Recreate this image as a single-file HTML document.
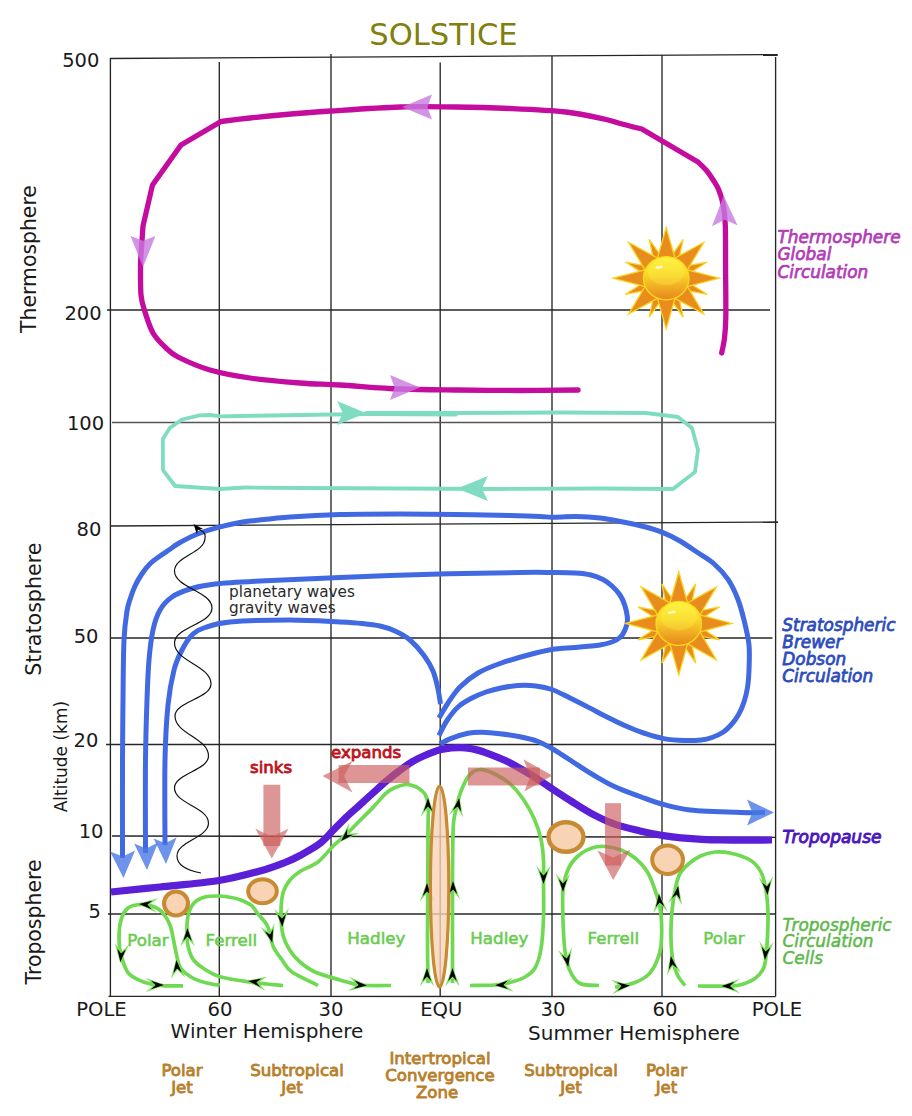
<!DOCTYPE html>
<html lang="en"><head><meta charset="utf-8"><title>Solstice atmospheric circulation</title>
<style>
html,body{margin:0;padding:0;background:#fff;}
body{width:912px;height:1116px;overflow:hidden;font-family:"DejaVu Sans","Liberation Sans",sans-serif;}
svg{display:block;}
</style></head><body>
<svg width="912" height="1116" viewBox="0 0 912 1116" font-family="'DejaVu Sans', 'Liberation Sans', sans-serif">
<g id="grid">
<line x1="110.4" y1="58.0" x2="110.4" y2="996.0" stroke="#262626" stroke-width="1.35"/>
<line x1="219.3" y1="62.0" x2="219.3" y2="996.0" stroke="#262626" stroke-width="1.35"/>
<line x1="331.0" y1="54.0" x2="331.0" y2="996.0" stroke="#262626" stroke-width="1.35"/>
<line x1="440.2" y1="62.5" x2="440.2" y2="996.0" stroke="#262626" stroke-width="1.35"/>
<line x1="552.0" y1="56.0" x2="552.0" y2="996.0" stroke="#262626" stroke-width="1.35"/>
<line x1="662.0" y1="55.0" x2="662.0" y2="996.0" stroke="#262626" stroke-width="1.35"/>
<line x1="775.6" y1="57.0" x2="775.6" y2="996.6" stroke="#262626" stroke-width="1.35"/>
<line x1="110.0" y1="58.5" x2="777.7" y2="54.6" stroke="#262626" stroke-width="1.35"/>
<line x1="107.0" y1="310.0" x2="770.0" y2="310.0" stroke="#262626" stroke-width="1.35"/>
<line x1="112.0" y1="422.6" x2="776.0" y2="422.6" stroke="#555" stroke-width="1.5"/>
<line x1="110.0" y1="526.0" x2="778.0" y2="522.0" stroke="#262626" stroke-width="1.35"/>
<line x1="110.0" y1="638.0" x2="772.5" y2="638.0" stroke="#262626" stroke-width="1.35"/>
<line x1="106.0" y1="744.5" x2="776.0" y2="744.5" stroke="#262626" stroke-width="1.35"/>
<line x1="112.0" y1="836.0" x2="776.0" y2="837.3" stroke="#262626" stroke-width="1.35"/>
<line x1="108.0" y1="914.0" x2="776.0" y2="914.0" stroke="#262626" stroke-width="1.35"/>
<line x1="108.5" y1="996.4" x2="775.5" y2="996.6" stroke="#262626" stroke-width="1.35"/>
</g>
<path d="M721.7,353.0 C722.2,350.5 723.8,343.8 724.5,338.0 C725.2,332.2 725.6,329.3 725.8,318.0 C726.0,306.7 725.7,285.5 725.6,270.0 C725.5,254.5 725.7,236.0 725.3,225.0 C724.9,214.0 724.1,209.8 723.0,204.0 C721.9,198.2 720.4,194.0 718.8,190.0 C717.2,186.0 715.2,183.2 713.2,180.0 C711.2,176.8 709.0,173.5 706.5,170.5 C704.0,167.5 699.4,163.4 698.0,162.0 L641.8,129.0 C638.2,128.1 626.0,125.1 620.0,123.5 C614.0,121.9 615.0,121.4 606.0,119.5 C597.0,117.6 582.0,113.8 566.0,112.0 C550.0,110.2 528.3,109.3 510.0,108.5 C491.7,107.7 474.3,107.2 456.0,107.0 C437.7,106.8 420.8,106.3 400.0,107.0 C379.2,107.7 351.0,109.7 331.0,111.0 C311.0,112.3 293.5,113.8 280.0,115.0 C266.5,116.2 259.8,116.9 250.0,118.0 C240.2,119.1 225.8,120.9 221.0,121.5 L181.0,145.0 L152.5,185.0 L143.0,226.0 L140.5,262.0  C140.6,267.5 140.2,286.7 141.0,295.0 C141.8,303.3 143.0,305.7 145.0,312.0 C147.0,318.3 149.7,327.2 153.0,333.0 C156.3,338.8 160.8,343.0 165.0,347.0 C169.2,351.0 170.5,353.2 178.0,357.0 C185.5,360.8 198.0,366.5 210.0,370.0 C222.0,373.5 235.0,375.8 250.0,378.0 C265.0,380.2 285.0,381.8 300.0,383.0 C315.0,384.2 323.3,384.0 340.0,385.0 C356.7,386.0 380.7,388.2 400.0,389.0 C419.3,389.8 436.0,389.8 456.0,390.0 C476.0,390.2 499.7,390.5 520.0,390.5 C540.3,390.5 568.3,390.1 578.0,390.0" fill="none" stroke="#c40c9e" stroke-width="5.3" stroke-linecap="round" stroke-linejoin="round"/>
<path d="M402.0,107.0 L432.0,94.5 L427.5,107.0 L432.0,119.5 Z" fill="#c879e0" fill-opacity="0.8"/>
<path d="M143.0,267.0 L130.5,236.0 L143.0,240.7 L155.5,236.0 Z" fill="#c879e0" fill-opacity="0.8"/>
<path d="M723.7,195.8 L737.5,225.3 L724.5,219.8 L712.0,226.2 Z" fill="#c879e0" fill-opacity="0.8"/>
<path d="M420.0,387.5 L390.0,400.0 L394.5,387.5 L390.0,375.0 Z" fill="#c879e0" fill-opacity="0.8"/>
<path d="M366.0,413.0 L456.0,413.0 L560.0,412.5 L646.0,413.0 L678.0,417.0 L692.0,428.0 L698.0,450.0 L695.0,472.0 L673.0,489.0 L600.0,488.5 L500.0,489.0 L400.0,488.5 L300.0,488.0 L245.0,487.5 L220.0,489.0 L175.0,486.0 L163.0,470.0 L162.8,439.0 L169.8,428.0 L182.0,419.5 L199.6,415.3 L210.0,415.0 L220.7,416.3 L240.0,416.0 L300.0,415.0 L366.0,414.0 L456.0,414.5" fill="none" stroke="#80dcc0" stroke-width="3.8" stroke-linecap="round" stroke-linejoin="round"/>
<path d="M366.0,413.0 L337.0,425.0 L342.8,413.0 L337.0,401.0 Z" fill="#80dcc0" fill-opacity="1"/>
<path d="M457.0,488.5 L488.0,476.0 L481.8,488.5 L488.0,501.0 Z" fill="#80dcc0" fill-opacity="1"/>
<path d="M122.5,858.0 C122.5,841.7 122.4,786.3 122.5,760.0 C122.6,733.7 122.8,720.0 123.0,700.0 C123.2,680.0 123.3,654.8 124.0,640.0 C124.7,625.2 125.9,618.0 127.0,611.0 C128.1,604.0 129.2,602.2 130.5,598.0 C131.8,593.8 133.2,589.9 135.0,586.0 C136.8,582.1 139.0,578.2 141.5,574.5 C144.0,570.8 146.9,566.9 150.0,563.8 C153.1,560.7 156.7,558.4 160.0,556.0 C163.3,553.6 167.1,551.3 170.0,549.3 C172.9,547.3 173.3,546.4 177.5,544.0 C181.7,541.6 188.1,537.8 195.0,535.0 C201.9,532.2 211.5,529.3 219.0,527.2 C226.5,525.1 234.0,523.6 240.0,522.5 C246.0,521.4 246.7,521.4 255.0,520.5 C263.3,519.6 275.8,518.0 290.0,517.0 C304.2,516.0 321.7,515.0 340.0,514.5 C358.3,514.0 380.7,514.0 400.0,514.0 C419.3,514.0 437.7,514.2 456.0,514.5 C474.3,514.8 496.0,515.2 510.0,515.5 C524.0,515.8 533.0,516.1 540.0,516.4 C547.0,516.7 546.0,517.2 552.0,517.2 C558.0,517.2 568.0,516.5 576.0,516.6 C584.0,516.7 591.9,517.1 600.0,518.0 C608.1,518.9 617.1,520.8 624.4,522.2 C631.7,523.6 637.3,524.8 643.7,526.5 C650.1,528.2 657.0,530.2 663.0,532.6 C669.0,535.0 674.4,537.8 680.0,541.0 C685.6,544.2 691.2,548.2 696.8,552.0 C702.4,555.8 708.5,558.9 713.7,563.5 C718.9,568.1 724.2,573.7 728.2,579.6 C732.2,585.5 735.2,592.3 737.8,599.0 C740.4,605.7 742.1,612.3 744.0,620.0 C745.9,627.7 748.2,636.7 749.0,645.0 C749.8,653.3 749.2,663.0 749.0,670.0 C748.8,677.0 748.4,681.7 747.6,687.0 C746.8,692.3 745.5,697.3 744.0,702.0 C742.5,706.7 740.5,711.2 738.3,715.0 C736.1,718.8 733.5,722.2 731.0,725.0 C728.5,727.8 726.6,729.9 723.4,732.0 C720.2,734.1 715.7,736.2 712.0,737.5 C708.3,738.8 705.5,739.5 701.0,740.0 C696.5,740.5 691.2,740.7 685.0,740.5 C678.8,740.3 670.4,739.8 663.7,738.6 C657.0,737.4 651.2,735.5 645.0,733.5 C638.8,731.5 632.7,729.0 626.4,726.3 C620.1,723.5 613.2,720.1 607.0,717.0 C600.8,713.9 595.2,710.8 589.0,707.6 C582.8,704.4 576.2,701.0 570.0,698.0 C563.8,695.0 557.6,691.5 551.9,689.5 C546.2,687.5 541.6,686.7 536.0,686.0 C530.4,685.3 523.8,685.2 518.0,685.5 C512.2,685.8 506.3,686.9 501.0,688.0 C495.7,689.1 490.8,690.3 486.0,692.0 C481.2,693.7 476.7,695.5 472.0,698.0 C467.3,700.5 462.2,703.2 458.0,707.0 C453.8,710.8 450.2,715.8 447.0,720.5 C443.8,725.2 440.3,733.0 439.0,735.5" fill="none" stroke="#4169e1" stroke-width="5" stroke-linecap="butt" stroke-linejoin="round"/>
<path d="M145.5,853.0 C145.5,837.5 145.2,785.5 145.5,760.0 C145.8,734.5 146.4,716.7 147.0,700.0 C147.6,683.3 148.0,671.7 149.0,660.0 C150.0,648.3 151.2,638.3 153.0,630.0 C154.8,621.7 156.8,615.5 160.0,610.0 C163.2,604.5 167.0,600.5 172.0,597.0 C177.0,593.5 182.8,591.2 190.0,589.0 C197.2,586.8 203.3,585.3 215.0,584.0 C226.7,582.7 239.2,582.1 260.0,581.0 C280.8,579.9 310.0,578.7 340.0,577.5 C370.0,576.3 410.0,574.8 440.0,574.0 C470.0,573.2 501.3,572.8 520.0,572.5 C538.7,572.2 542.8,572.4 552.0,572.5 C561.2,572.6 568.5,572.6 575.0,573.0 C581.5,573.4 586.3,573.9 591.0,575.0 C595.7,576.1 599.5,577.7 603.0,579.5 C606.5,581.3 609.2,583.4 612.0,586.0 C614.8,588.6 617.8,591.7 620.0,595.0 C622.2,598.3 623.8,601.8 625.0,606.0 C626.2,610.2 627.5,616.0 627.5,620.0 C627.5,624.0 626.2,627.1 625.0,630.0 C623.8,632.9 622.2,635.5 620.0,637.5 C617.8,639.5 615.3,640.8 612.0,642.0 C608.7,643.2 606.2,644.1 600.0,645.0 C593.8,645.9 583.0,646.8 575.0,647.5 C567.0,648.2 559.5,648.3 552.0,649.5 C544.5,650.7 538.7,652.2 530.0,654.5 C521.3,656.8 508.7,660.4 500.0,663.5 C491.3,666.6 484.7,669.1 478.0,673.0 C471.3,676.9 465.0,682.0 460.0,687.0 C455.0,692.0 451.5,697.8 448.0,703.0 C444.5,708.2 440.5,715.5 439.0,718.0" fill="none" stroke="#4169e1" stroke-width="5" stroke-linecap="butt" stroke-linejoin="round"/>
<path d="M165.0,845.0 C165.0,830.8 164.5,783.3 165.0,760.0 C165.5,736.7 166.5,720.0 168.0,705.0 C169.5,690.0 171.7,679.2 174.0,670.0 C176.3,660.8 179.0,655.8 182.0,650.0 C185.0,644.2 188.2,638.8 192.0,635.0 C195.8,631.2 198.7,629.7 205.0,627.5 C211.3,625.3 215.8,623.2 230.0,622.0 C244.2,620.8 271.7,620.0 290.0,620.0 C308.3,620.0 328.0,621.4 340.0,622.0 C352.0,622.6 355.3,622.8 362.0,623.5 C368.7,624.2 374.5,624.8 380.0,626.0 C385.5,627.2 390.0,628.7 395.0,631.0 C400.0,633.3 405.2,635.9 410.0,640.0 C414.8,644.1 420.2,650.3 424.0,655.5 C427.8,660.7 430.7,665.4 433.0,671.0 C435.3,676.6 436.8,683.5 438.0,689.0 C439.2,694.5 440.1,701.5 440.5,704.0" fill="none" stroke="#4169e1" stroke-width="5" stroke-linecap="butt" stroke-linejoin="round"/>
<path d="M440.0,744.0 C441.7,743.1 445.3,740.6 450.0,738.8 C454.7,737.0 462.7,734.4 468.0,733.3 C473.3,732.2 476.7,732.2 482.0,732.3 C487.3,732.4 493.7,733.0 500.0,733.8 C506.3,734.5 513.7,735.5 520.0,736.8 C526.3,738.1 532.8,739.6 538.0,741.5 C543.2,743.4 547.3,746.0 551.0,748.0 C554.7,750.0 556.6,751.3 560.0,753.5 C563.4,755.7 566.0,757.4 571.6,761.0 C577.2,764.6 586.2,770.7 593.5,775.0 C600.8,779.3 607.6,783.4 615.4,787.0 C623.1,790.6 632.6,793.8 640.0,796.5 C647.4,799.2 651.7,801.2 660.0,803.5 C668.3,805.8 676.5,808.5 690.0,810.0 C703.5,811.5 728.5,812.1 741.0,812.5 C753.5,812.9 761.0,812.5 765.0,812.5" fill="none" stroke="#4169e1" stroke-width="5" stroke-linecap="butt" stroke-linejoin="round"/>
<path d="M111.0,892.0 C119.2,891.2 142.0,888.9 160.0,887.0 C178.0,885.1 202.3,883.2 219.0,880.5 C235.7,877.8 249.0,874.0 260.0,871.0 C271.0,868.0 278.3,865.1 285.0,862.5 C291.7,859.9 294.2,858.7 300.0,855.5 C305.8,852.3 314.5,847.6 320.0,843.4 C325.5,839.2 328.8,834.7 333.2,830.3 C337.6,825.9 341.9,821.3 346.3,817.1 C350.7,812.9 355.1,809.2 359.5,805.3 C363.9,801.3 368.2,797.3 372.6,793.4 C377.0,789.5 381.4,785.3 385.8,781.6 C390.2,777.9 394.6,774.3 399.0,771.0 C403.4,767.7 407.6,764.4 412.0,761.8 C416.4,759.2 420.6,757.3 425.3,755.3 C430.0,753.3 435.7,751.0 440.0,749.8 C444.3,748.6 447.3,748.4 451.0,748.0 C454.7,747.6 458.3,747.5 462.0,747.7 C465.7,747.9 469.4,748.3 473.0,749.0 C476.6,749.7 478.4,750.0 483.9,752.0 C489.4,754.0 498.5,757.3 505.8,760.8 C513.1,764.3 520.4,768.5 527.7,772.9 C535.0,777.3 542.3,782.4 549.6,787.1 C556.9,791.9 564.3,796.8 571.6,801.4 C578.9,806.0 586.2,810.8 593.5,814.6 C600.8,818.4 607.6,821.7 615.4,824.4 C623.1,827.1 632.6,829.2 640.0,831.0 C647.4,832.8 653.2,833.9 660.0,835.0 C666.8,836.1 671.0,837.0 681.0,837.8 C691.0,838.6 704.8,839.6 720.0,840.0 C735.2,840.4 763.3,840.0 772.0,840.0" fill="none" stroke="#5a1fd6" stroke-width="7.2" stroke-linecap="butt" stroke-linejoin="round"/>
<path d="M123.5,878.0 L110.1,851.5 L122.7,856.4 L135.1,850.6 Z" fill="#4a78e6" fill-opacity="0.8"/>
<path d="M147.0,870.0 L134.1,843.4 L146.2,848.4 L158.1,842.6 Z" fill="#4a78e6" fill-opacity="0.8"/>
<path d="M166.0,864.0 L153.6,838.4 L165.3,843.2 L176.6,837.6 Z" fill="#4a78e6" fill-opacity="0.8"/>
<path d="M774.0,812.5 L747.0,825.5 L752.4,812.5 L747.0,799.5 Z" fill="#4a78e6" fill-opacity="0.8"/>
<path d="M196,528 C203,531 206,533 205,538 C205.0,552.9 174.5,556.1 174.5,571.0 C174.5,587.6 212.0,591.4 212.0,608.0 C212.0,623.8 174.5,627.2 174.5,643.0 C174.5,661.5 211.0,665.5 211.0,684.0 C211.0,698.4 175.0,701.6 175.0,716.0 C175.0,734.0 208.5,738.0 208.5,756.0 C208.5,770.4 174.5,773.6 174.5,788.0 C174.5,803.8 208.5,807.2 208.5,823.0 C208.5,837.9 177.0,841.1 177.0,856.0 C177,864 185,870 201,873" fill="none" stroke="#111" stroke-width="1.2"/>
<path d="M193.5,524.0 L203.0,529.1 L198.0,529.4 L196.9,534.2 Z" fill="#000" fill-opacity="1"/>
<path d="M219.8,985.4 C217.3,984.9 209.7,983.8 205.0,982.5 C200.3,981.2 195.8,979.8 191.8,977.5 C187.8,975.2 183.5,971.7 181.2,968.8 C178.8,965.9 178.8,964.0 177.7,960.0 C176.6,956.0 175.8,950.8 174.5,945.0 C173.2,939.2 172.1,930.5 170.0,925.0 C167.9,919.5 165.0,915.2 162.0,912.0 C159.0,908.8 155.7,907.2 152.0,906.0 C148.3,904.8 144.0,904.2 140.0,904.5 C136.0,904.8 131.2,905.4 128.0,908.0 C124.8,910.6 122.5,914.7 121.0,920.0 C119.5,925.3 119.0,934.2 119.0,940.0 C119.0,945.8 119.5,949.6 121.0,955.0 C122.5,960.4 125.0,968.2 127.7,972.3 C130.4,976.3 133.8,977.4 137.4,979.3 C141.1,981.2 144.9,982.6 149.6,983.7 C154.3,984.8 159.8,985.4 165.4,985.8 C171.0,986.1 180.1,985.8 183.0,985.8" fill="none" stroke="#6fd952" stroke-width="3.7" stroke-linecap="butt" stroke-linejoin="round"/>
<path d="M283.0,985.5 C277.5,984.9 260.5,983.5 250.0,982.0 C239.5,980.5 227.5,978.9 219.8,976.7 C212.1,974.5 208.4,971.6 204.0,968.8 C199.6,966.0 196.0,963.1 193.5,960.0 C191.0,956.9 190.1,953.7 189.0,950.0 C187.9,946.3 187.2,943.7 187.0,938.0 C186.8,932.3 186.8,921.8 188.0,916.0 C189.2,910.2 191.2,906.2 194.0,903.0 C196.8,899.8 200.8,898.2 205.0,897.0 C209.2,895.8 214.8,896.0 219.0,896.0 C223.2,896.0 226.5,896.7 230.0,897.3 C233.5,897.9 236.4,898.4 240.0,899.7 C243.6,901.1 248.5,903.1 251.4,905.4 C254.3,907.7 255.0,910.2 257.5,913.3 C260.0,916.4 264.2,920.7 266.3,923.9 C268.4,927.1 268.6,928.8 269.8,932.6 C271.0,936.4 271.2,942.1 273.3,946.7 C275.4,951.3 279.0,955.8 282.1,960.0 C285.2,964.2 286.0,967.8 292.0,972.0 C298.0,976.2 313.7,983.2 318.0,985.5" fill="none" stroke="#6fd952" stroke-width="3.7" stroke-linecap="butt" stroke-linejoin="round"/>
<path d="M428.0,983.0 C427.9,975.8 427.5,957.2 427.5,940.0 C427.5,922.8 427.7,898.3 427.8,880.0 C427.9,861.7 427.9,842.3 428.0,830.0 C428.1,817.7 428.6,811.9 428.2,806.0 C427.8,800.1 426.9,797.7 425.3,794.7 C423.7,791.7 420.9,789.7 418.7,788.2 C416.5,786.7 414.2,786.1 412.0,785.5 C409.8,784.9 408.5,784.1 405.5,784.5 C402.5,784.9 397.3,786.5 394.0,788.0 C390.7,789.5 389.4,790.1 385.8,793.4 C382.2,796.7 377.0,803.3 372.6,807.9 C368.2,812.5 363.9,816.6 359.5,821.0 C355.1,825.4 350.7,830.0 346.3,834.2 C341.9,838.4 337.9,841.4 333.2,846.0 C328.5,850.6 323.5,857.8 318.0,862.0 C312.5,866.2 304.7,868.5 300.0,871.5 C295.3,874.5 292.8,876.4 290.0,880.0 C287.2,883.6 284.5,887.3 283.0,893.0 C281.5,898.7 281.0,907.0 281.0,914.0 C281.0,921.0 281.5,928.9 283.0,935.0 C284.5,941.1 287.2,946.0 290.0,950.5 C292.8,955.0 295.8,958.4 300.0,962.0 C304.2,965.6 308.3,969.0 315.0,972.0 C321.7,975.0 332.5,977.8 340.0,980.0 C347.5,982.2 351.5,984.1 360.0,985.0 C368.5,985.9 385.8,985.4 391.0,985.5" fill="none" stroke="#6fd952" stroke-width="3.7" stroke-linecap="butt" stroke-linejoin="round"/>
<path d="M452.5,983.0 C452.5,975.8 452.5,957.2 452.5,940.0 C452.5,922.8 452.4,898.7 452.5,880.0 C452.6,861.3 452.7,839.3 453.2,828.0 C453.7,816.7 454.3,817.9 455.4,812.4 C456.5,806.9 457.9,800.3 459.7,794.8 C461.5,789.3 464.1,783.3 466.3,779.5 C468.5,775.7 470.3,773.4 472.9,771.8 C475.5,770.1 478.0,769.2 481.7,769.6 C485.4,770.0 490.1,771.6 494.8,774.0 C499.6,776.4 505.4,779.7 510.2,783.9 C514.9,788.1 519.3,793.4 523.3,799.2 C527.3,805.0 531.4,812.3 534.3,818.9 C537.2,825.5 539.4,831.9 540.9,838.7 C542.4,845.6 543.1,853.0 543.5,860.0 C543.9,867.0 543.5,871.3 543.5,881.0 C543.5,890.7 543.9,906.7 543.5,918.0 C543.1,929.3 542.4,940.7 541.0,949.0 C539.6,957.3 537.7,963.3 535.0,968.0 C532.3,972.7 529.2,974.6 525.0,977.0 C520.8,979.4 515.0,981.2 510.0,982.5 C505.0,983.8 501.7,984.5 495.0,985.0 C488.3,985.5 474.2,985.4 470.0,985.5" fill="none" stroke="#6fd952" stroke-width="3.7" stroke-linecap="butt" stroke-linejoin="round"/>
<path d="M615.0,987.0 C615.8,986.9 616.7,987.2 620.0,986.5 C623.3,985.8 630.3,984.4 635.0,982.5 C639.7,980.6 644.5,978.2 648.0,975.0 C651.5,971.8 653.8,967.8 656.0,963.0 C658.2,958.2 660.2,954.2 661.0,946.0 C661.8,937.8 661.7,922.3 661.0,914.0 C660.3,905.7 659.2,902.8 657.0,896.0 C654.8,889.2 651.7,879.3 648.0,873.0 C644.3,866.7 639.5,861.8 635.0,858.0 C630.5,854.2 626.0,851.9 621.0,850.0 C616.0,848.1 609.8,846.8 605.0,846.5 C600.2,846.2 596.5,846.4 592.0,848.0 C587.5,849.6 582.0,852.4 578.0,856.0 C574.0,859.6 570.5,863.8 568.0,869.5 C565.5,875.2 563.8,881.6 563.0,890.0 C562.2,898.4 562.7,909.8 563.0,920.0 C563.3,930.2 563.8,942.5 565.0,951.0 C566.2,959.5 567.5,965.6 570.0,971.0 C572.5,976.4 575.2,981.1 580.0,983.5 C584.8,985.9 595.8,985.2 599.0,985.5" fill="none" stroke="#6fd952" stroke-width="3.7" stroke-linecap="butt" stroke-linejoin="round"/>
<path d="M685.0,985.5 C683.8,983.9 680.0,980.0 678.0,976.0 C676.0,972.0 674.2,967.8 673.0,961.5 C671.8,955.2 671.2,946.4 671.0,938.0 C670.8,929.6 671.2,919.3 672.0,911.0 C672.8,902.7 674.2,894.2 675.5,888.0 C676.8,881.8 677.8,877.5 680.0,873.5 C682.2,869.5 685.1,866.9 688.5,864.0 C691.9,861.1 696.1,858.0 700.5,856.0 C704.9,854.0 710.1,852.5 715.0,852.0 C719.9,851.5 724.2,851.7 730.0,853.0 C735.8,854.3 744.8,856.8 750.0,860.0 C755.2,863.2 758.3,866.9 761.0,872.0 C763.7,877.1 764.8,883.5 766.0,890.5 C767.2,897.5 767.8,905.8 768.0,914.0 C768.2,922.2 767.7,932.6 767.3,940.0 C766.9,947.4 766.5,953.6 765.8,958.4 C765.1,963.2 765.0,965.7 763.2,969.0 C761.5,972.3 758.6,975.7 755.3,978.2 C752.0,980.7 747.1,982.7 743.4,984.0 C739.7,985.3 737.6,985.6 732.9,986.0 C728.2,986.4 720.8,986.2 715.0,986.2 C709.2,986.2 700.8,986.0 698.0,986.0" fill="none" stroke="#6fd952" stroke-width="3.7" stroke-linecap="butt" stroke-linejoin="round"/>
<path d="M137.5,903.8 L158.1,898.3 L149.1,904.8 L156.8,912.7 Z" fill="#7fe060" fill-opacity="1"/>
<path d="M139.0,903.9 L152.3,900.8 L147.4,904.6 L151.6,909.3 Z" fill="#000" fill-opacity="1"/>
<path d="M120.3,963.5 L114.8,942.9 L121.3,951.9 L129.2,944.2 Z" fill="#7fe060" fill-opacity="1"/>
<path d="M120.4,962.0 L117.3,948.7 L121.1,953.6 L125.8,949.4 Z" fill="#000" fill-opacity="1"/>
<path d="M165.5,985.0 L145.5,992.2 L153.9,985.0 L145.5,977.8 Z" fill="#7fe060" fill-opacity="1"/>
<path d="M164.0,985.0 L151.0,989.2 L155.6,985.0 L151.0,980.8 Z" fill="#000" fill-opacity="1"/>
<path d="M176.3,958.5 L185.2,977.8 L177.3,970.1 L170.8,979.1 Z" fill="#7fe060" fill-opacity="1"/>
<path d="M176.4,960.0 L181.8,972.6 L177.1,968.4 L173.3,973.3 Z" fill="#000" fill-opacity="1"/>
<path d="M187.5,926.5 L194.8,946.5 L187.5,938.1 L180.2,946.5 Z" fill="#7fe060" fill-opacity="1"/>
<path d="M187.5,928.0 L191.8,941.0 L187.5,936.5 L183.2,941.0 Z" fill="#000" fill-opacity="1"/>
<path d="M272.7,944.2 L260.5,926.8 L269.7,933.0 L274.5,923.0 Z" fill="#7fe060" fill-opacity="1"/>
<path d="M272.3,942.8 L264.8,931.3 L270.1,934.6 L273.1,929.1 Z" fill="#000" fill-opacity="1"/>
<path d="M246.6,980.8 L267.4,976.4 L258.1,982.4 L265.4,990.8 Z" fill="#7fe060" fill-opacity="1"/>
<path d="M248.1,981.0 L261.5,978.6 L256.4,982.2 L260.4,987.0 Z" fill="#000" fill-opacity="1"/>
<path d="M428.0,796.5 L435.2,816.5 L428.0,808.1 L420.8,816.5 Z" fill="#7fe060" fill-opacity="1"/>
<path d="M428.0,798.0 L432.2,811.0 L428.0,806.5 L423.8,811.0 Z" fill="#000" fill-opacity="1"/>
<path d="M340.0,842.0 L349.0,822.7 L348.2,833.8 L359.3,833.0 Z" fill="#7fe060" fill-opacity="1"/>
<path d="M341.1,840.9 L347.2,828.8 L347.0,835.0 L353.2,834.8 Z" fill="#000" fill-opacity="1"/>
<path d="M427.0,881.5 L434.2,901.5 L427.0,893.1 L419.8,901.5 Z" fill="#7fe060" fill-opacity="1"/>
<path d="M427.0,883.0 L431.2,896.0 L427.0,891.5 L422.8,896.0 Z" fill="#000" fill-opacity="1"/>
<path d="M427.0,966.5 L434.2,986.5 L427.0,978.1 L419.8,986.5 Z" fill="#7fe060" fill-opacity="1"/>
<path d="M427.0,968.0 L431.2,981.0 L427.0,976.5 L422.8,981.0 Z" fill="#000" fill-opacity="1"/>
<path d="M368.5,985.7 L347.9,991.2 L356.9,984.7 L349.2,976.8 Z" fill="#7fe060" fill-opacity="1"/>
<path d="M367.0,985.6 L353.7,988.7 L358.6,984.9 L354.4,980.2 Z" fill="#000" fill-opacity="1"/>
<path d="M282.3,928.5 L274.4,908.8 L281.9,916.9 L288.8,908.3 Z" fill="#7fe060" fill-opacity="1"/>
<path d="M282.2,927.0 L277.5,914.2 L281.9,918.6 L286.0,913.9 Z" fill="#000" fill-opacity="1"/>
<path d="M459.5,796.6 L463.1,817.6 L457.5,808.1 L448.9,815.1 Z" fill="#7fe060" fill-opacity="1"/>
<path d="M459.2,798.1 L461.1,811.6 L457.7,806.4 L452.8,810.2 Z" fill="#000" fill-opacity="1"/>
<path d="M543.5,885.5 L536.2,865.5 L543.5,873.9 L550.8,865.5 Z" fill="#7fe060" fill-opacity="1"/>
<path d="M543.5,884.0 L539.2,871.0 L543.5,875.5 L547.8,871.0 Z" fill="#000" fill-opacity="1"/>
<path d="M453.0,879.5 L460.2,899.5 L453.0,891.1 L445.8,899.5 Z" fill="#7fe060" fill-opacity="1"/>
<path d="M453.0,881.0 L457.2,894.0 L453.0,889.5 L448.8,894.0 Z" fill="#000" fill-opacity="1"/>
<path d="M452.5,966.5 L459.8,986.5 L452.5,978.1 L445.2,986.5 Z" fill="#7fe060" fill-opacity="1"/>
<path d="M452.5,968.0 L456.8,981.0 L452.5,976.5 L448.2,981.0 Z" fill="#000" fill-opacity="1"/>
<path d="M493.5,985.3 L513.2,977.4 L505.1,984.9 L513.7,991.8 Z" fill="#7fe060" fill-opacity="1"/>
<path d="M495.0,985.2 L507.8,980.5 L503.4,984.9 L508.1,989.0 Z" fill="#000" fill-opacity="1"/>
<path d="M563.0,893.5 L555.8,873.5 L563.0,881.9 L570.2,873.5 Z" fill="#7fe060" fill-opacity="1"/>
<path d="M563.0,892.0 L558.8,879.0 L563.0,883.5 L567.2,879.0 Z" fill="#000" fill-opacity="1"/>
<path d="M568.5,968.4 L557.9,949.9 L566.5,956.9 L572.1,947.4 Z" fill="#7fe060" fill-opacity="1"/>
<path d="M568.2,966.9 L561.8,954.8 L566.7,958.6 L570.1,953.4 Z" fill="#000" fill-opacity="1"/>
<path d="M631.5,985.3 L612.2,994.2 L619.9,986.3 L610.9,979.8 Z" fill="#7fe060" fill-opacity="1"/>
<path d="M630.0,985.4 L617.4,990.8 L621.6,986.1 L616.7,982.3 Z" fill="#000" fill-opacity="1"/>
<path d="M658.8,892.5 L667.7,911.8 L659.8,904.1 L653.3,913.1 Z" fill="#7fe060" fill-opacity="1"/>
<path d="M658.9,894.0 L664.3,906.6 L659.6,902.4 L655.8,907.3 Z" fill="#000" fill-opacity="1"/>
<path d="M678.5,884.6 L682.1,905.6 L676.5,896.1 L667.9,903.1 Z" fill="#7fe060" fill-opacity="1"/>
<path d="M678.2,886.1 L680.1,899.6 L676.7,894.4 L671.8,898.2 Z" fill="#000" fill-opacity="1"/>
<path d="M767.7,896.5 L758.8,877.2 L766.7,884.9 L773.2,875.9 Z" fill="#7fe060" fill-opacity="1"/>
<path d="M767.6,895.0 L762.2,882.4 L766.9,886.6 L770.7,881.7 Z" fill="#000" fill-opacity="1"/>
<path d="M764.8,961.5 L759.3,940.9 L765.8,949.9 L773.7,942.2 Z" fill="#7fe060" fill-opacity="1"/>
<path d="M764.9,960.0 L761.8,946.7 L765.6,951.6 L770.3,947.4 Z" fill="#000" fill-opacity="1"/>
<path d="M670.5,954.6 L681.1,973.1 L672.5,966.1 L666.9,975.6 Z" fill="#7fe060" fill-opacity="1"/>
<path d="M670.8,956.1 L677.2,968.2 L672.3,964.4 L668.9,969.6 Z" fill="#000" fill-opacity="1"/>
<path d="M720.0,986.0 L740.0,978.8 L731.6,986.0 L740.0,993.2 Z" fill="#7fe060" fill-opacity="1"/>
<path d="M721.5,986.0 L734.5,981.8 L730.0,986.0 L734.5,990.2 Z" fill="#000" fill-opacity="1"/>
<g fill="#cd5c5c" fill-opacity="0.65"><path d="M338.6,765.0 L409.5,765.0 L409.5,783.0 L338.6,783.0 Z"/><path d="M322.5,776.0 L352.5,761.0 L344.0,776.0 L352.5,792.5 Z"/></g>
<g fill="#cd5c5c" fill-opacity="0.65"><path d="M467.9,767.4 L539.8,767.4 L539.8,785.6 L467.9,785.6 Z"/><path d="M552.3,775.5 L523.3,759.3 L530.5,776.0 L524.4,791.5 Z"/></g>
<g fill="#cd5c5c" fill-opacity="0.65"><path d="M263.4,784.7 L280.3,784.7 L280.3,846.0 L263.4,846.0 Z"/><path d="M271.8,858.6 L255.3,828.6 L271.8,837.0 L288.6,828.6 Z"/></g>
<g fill="#cd5c5c" fill-opacity="0.65"><path d="M605.0,803.2 L621.0,803.2 L621.0,865.5 L605.0,865.5 Z"/><path d="M613.2,880.0 L597.4,850.5 L613.2,857.5 L630.3,849.7 Z"/></g>
<ellipse cx="176.0" cy="903.5" rx="12.0" ry="12.0" fill="#f8d3b4" stroke="#c68b33" stroke-width="4"/>
<ellipse cx="262.5" cy="891.2" rx="14.3" ry="12.0" fill="#f8d3b4" stroke="#c68b33" stroke-width="4"/>
<ellipse cx="566.0" cy="837.0" rx="17.5" ry="14.8" fill="#f8d3b4" stroke="#c68b33" stroke-width="4.4"/>
<ellipse cx="667.6" cy="859.7" rx="15.4" ry="14.2" fill="#f8d3b4" stroke="#c68b33" stroke-width="4"/>
<ellipse cx="439.6" cy="886.5" rx="9.2" ry="100.4" fill="#f8d3b4" fill-opacity="0.8" stroke="#c68b33" stroke-width="3.2"/>
<defs>
<linearGradient id="sg" x1="0" y1="0" x2="0" y2="1"><stop offset="0" stop-color="#fff53c"/><stop offset="0.4" stop-color="#f9d927"/><stop offset="0.75" stop-color="#efa722"/><stop offset="1" stop-color="#e8861c"/></linearGradient>
</defs>
<g transform="translate(666.2,278.2) scale(1.005,0.957)">
<path d="M40.65,16.84 L14.64,11.69 L18.62,2.08 Z M16.84,40.65 L2.08,18.62 L11.69,14.64 Z M-16.84,40.65 L-11.69,14.64 L-2.08,18.62 Z M-40.65,16.84 L-18.62,2.08 L-14.64,11.69 Z M-40.65,-16.84 L-14.64,-11.69 L-18.62,-2.08 Z M-16.84,-40.65 L-2.08,-18.62 L-11.69,-14.64 Z M16.84,-40.65 L11.69,-14.64 L2.08,-18.62 Z M40.65,-16.84 L18.62,-2.08 L14.64,-11.69 Z" fill="#e98c1e" stroke="#f9d423" stroke-width="1.3" stroke-linejoin="miter"/>
<path d="M53.00,0.00 L19.00,9.30 L19.00,-9.30 Z M37.48,37.48 L6.86,20.01 L20.01,6.86 Z M0.00,53.00 L-9.30,19.00 L9.30,19.00 Z M-37.48,37.48 L-20.01,6.86 L-6.86,20.01 Z M-53.00,0.00 L-19.00,-9.30 L-19.00,9.30 Z M-37.48,-37.48 L-6.86,-20.01 L-20.01,-6.86 Z M-0.00,-53.00 L9.30,-19.00 L-9.30,-19.00 Z M37.48,-37.48 L20.01,-6.86 L6.86,-20.01 Z" fill="#e98c1e" stroke="#f9d423" stroke-width="1.3" stroke-linejoin="miter"/>
<circle r="22.6" fill="url(#sg)" stroke="#f7d822" stroke-width="1.4"/>
<ellipse cx="0" cy="-6" rx="18" ry="13" fill="#fff05a" fill-opacity="0.28"/>
<ellipse cx="-7" cy="-11.5" rx="4" ry="1.3" fill="#fff" fill-opacity="0.8" transform="rotate(-12 -7 -11.5)"/>
</g>
<g transform="translate(678.8,623.4) scale(1.005,0.975)">
<path d="M40.65,16.84 L14.64,11.69 L18.62,2.08 Z M16.84,40.65 L2.08,18.62 L11.69,14.64 Z M-16.84,40.65 L-11.69,14.64 L-2.08,18.62 Z M-40.65,16.84 L-18.62,2.08 L-14.64,11.69 Z M-40.65,-16.84 L-14.64,-11.69 L-18.62,-2.08 Z M-16.84,-40.65 L-2.08,-18.62 L-11.69,-14.64 Z M16.84,-40.65 L11.69,-14.64 L2.08,-18.62 Z M40.65,-16.84 L18.62,-2.08 L14.64,-11.69 Z" fill="#e98c1e" stroke="#f9d423" stroke-width="1.3" stroke-linejoin="miter"/>
<path d="M53.00,0.00 L19.00,9.30 L19.00,-9.30 Z M37.48,37.48 L6.86,20.01 L20.01,6.86 Z M0.00,53.00 L-9.30,19.00 L9.30,19.00 Z M-37.48,37.48 L-20.01,6.86 L-6.86,20.01 Z M-53.00,0.00 L-19.00,-9.30 L-19.00,9.30 Z M-37.48,-37.48 L-6.86,-20.01 L-20.01,-6.86 Z M-0.00,-53.00 L9.30,-19.00 L-9.30,-19.00 Z M37.48,-37.48 L20.01,-6.86 L6.86,-20.01 Z" fill="#e98c1e" stroke="#f9d423" stroke-width="1.3" stroke-linejoin="miter"/>
<circle r="22.6" fill="url(#sg)" stroke="#f7d822" stroke-width="1.4"/>
<ellipse cx="0" cy="-6" rx="18" ry="13" fill="#fff05a" fill-opacity="0.28"/>
<ellipse cx="-7" cy="-11.5" rx="4" ry="1.3" fill="#fff" fill-opacity="0.8" transform="rotate(-12 -7 -11.5)"/>
</g>
<text x="443.5" y="44.8" font-size="30.6" fill="#80800c" text-anchor="middle" font-weight="normal" font-style="normal" >SOLSTICE</text>
<text x="99.4" y="67.3" font-size="19.5" fill="#1a1a1a" text-anchor="end" font-weight="normal" font-style="normal" >500</text>
<text x="101.7" y="320.2" font-size="19.5" fill="#1a1a1a" text-anchor="end" font-weight="normal" font-style="normal" >200</text>
<text x="104.2" y="430.3" font-size="19.5" fill="#1a1a1a" text-anchor="end" font-weight="normal" font-style="normal" >100</text>
<text x="101.4" y="535.6" font-size="19.5" fill="#1a1a1a" text-anchor="end" font-weight="normal" font-style="normal" >80</text>
<text x="98.5" y="643.2" font-size="19.5" fill="#1a1a1a" text-anchor="end" font-weight="normal" font-style="normal" >50</text>
<text x="98.3" y="747.2" font-size="19.5" fill="#1a1a1a" text-anchor="end" font-weight="normal" font-style="normal" >20</text>
<text x="103.5" y="838.2" font-size="19.5" fill="#1a1a1a" text-anchor="end" font-weight="normal" font-style="normal" >10</text>
<text x="101.0" y="918.1" font-size="19.5" fill="#1a1a1a" text-anchor="end" font-weight="normal" font-style="normal" >5</text>
<text transform="translate(36.0,259.0) rotate(-90)" font-size="20.4" fill="#1a1a1a" text-anchor="middle">Thermosphere</text>
<text transform="translate(41.0,609.2) rotate(-90)" font-size="20.6" fill="#1a1a1a" text-anchor="middle">Stratosphere</text>
<text transform="translate(67.0,756.6) rotate(-90)" font-size="17" fill="#1a1a1a" text-anchor="middle">Altitude (km)</text>
<text transform="translate(41.0,922.0) rotate(-90)" font-size="20.45" fill="#1a1a1a" text-anchor="middle">Troposphere</text>
<text x="101.5" y="1016.0" font-size="19.6" fill="#1a1a1a" text-anchor="middle" font-weight="normal" font-style="normal" >POLE</text>
<text x="220.0" y="1016.0" font-size="19.6" fill="#1a1a1a" text-anchor="middle" font-weight="normal" font-style="normal" >60</text>
<text x="331.0" y="1016.0" font-size="19.6" fill="#1a1a1a" text-anchor="middle" font-weight="normal" font-style="normal" >30</text>
<text x="441.3" y="1016.0" font-size="19.6" fill="#1a1a1a" text-anchor="middle" font-weight="normal" font-style="normal" >EQU</text>
<text x="553.0" y="1016.0" font-size="19.6" fill="#1a1a1a" text-anchor="middle" font-weight="normal" font-style="normal" >30</text>
<text x="665.0" y="1016.0" font-size="19.6" fill="#1a1a1a" text-anchor="middle" font-weight="normal" font-style="normal" >60</text>
<text x="777.0" y="1016.0" font-size="19.6" fill="#1a1a1a" text-anchor="middle" font-weight="normal" font-style="normal" >POLE</text>
<text x="267.0" y="1038.0" font-size="20" fill="#1a1a1a" text-anchor="middle" font-weight="normal" font-style="normal" >Winter Hemisphere</text>
<text x="634.0" y="1040.0" font-size="20" fill="#1a1a1a" text-anchor="middle" font-weight="normal" font-style="normal" >Summer Hemisphere</text>
<text x="182.0" y="1075.5" font-size="16.6" fill="#b8802c" text-anchor="middle" font-weight="normal" font-style="normal" stroke="#b8802c" stroke-width="0.9" stroke-linejoin="round">Polar</text>
<text x="182.0" y="1092.5" font-size="16.6" fill="#b8802c" text-anchor="middle" font-weight="normal" font-style="normal" stroke="#b8802c" stroke-width="0.9" stroke-linejoin="round">Jet</text>
<text x="297.0" y="1075.5" font-size="16.6" fill="#b8802c" text-anchor="middle" font-weight="normal" font-style="normal" stroke="#b8802c" stroke-width="0.9" stroke-linejoin="round">Subtropical</text>
<text x="292.0" y="1092.5" font-size="16.6" fill="#b8802c" text-anchor="middle" font-weight="normal" font-style="normal" stroke="#b8802c" stroke-width="0.9" stroke-linejoin="round">Jet</text>
<text x="440.0" y="1064.0" font-size="16.6" fill="#b8802c" text-anchor="middle" font-weight="normal" font-style="normal" stroke="#b8802c" stroke-width="0.9" stroke-linejoin="round">Intertropical</text>
<text x="440.0" y="1081.0" font-size="16.6" fill="#b8802c" text-anchor="middle" font-weight="normal" font-style="normal" stroke="#b8802c" stroke-width="0.9" stroke-linejoin="round">Convergence</text>
<text x="437.0" y="1098.0" font-size="16.6" fill="#b8802c" text-anchor="middle" font-weight="normal" font-style="normal" stroke="#b8802c" stroke-width="0.9" stroke-linejoin="round">Zone</text>
<text x="571.0" y="1075.5" font-size="16.6" fill="#b8802c" text-anchor="middle" font-weight="normal" font-style="normal" stroke="#b8802c" stroke-width="0.9" stroke-linejoin="round">Subtropical</text>
<text x="571.0" y="1092.5" font-size="16.6" fill="#b8802c" text-anchor="middle" font-weight="normal" font-style="normal" stroke="#b8802c" stroke-width="0.9" stroke-linejoin="round">Jet</text>
<text x="666.5" y="1075.5" font-size="16.6" fill="#b8802c" text-anchor="middle" font-weight="normal" font-style="normal" stroke="#b8802c" stroke-width="0.9" stroke-linejoin="round">Polar</text>
<text x="666.5" y="1092.5" font-size="16.6" fill="#b8802c" text-anchor="middle" font-weight="normal" font-style="normal" stroke="#b8802c" stroke-width="0.9" stroke-linejoin="round">Jet</text>
<text x="777.5" y="243.3" font-size="16.9" fill="#b23cb8" text-anchor="start" font-weight="normal" font-style="oblique" stroke="#b23cb8" stroke-width="0.75" stroke-linejoin="round">Thermosphere</text>
<text x="777.5" y="260.4" font-size="16.9" fill="#b23cb8" text-anchor="start" font-weight="normal" font-style="oblique" stroke="#b23cb8" stroke-width="0.75" stroke-linejoin="round">Global</text>
<text x="777.5" y="277.5" font-size="16.9" fill="#b23cb8" text-anchor="start" font-weight="normal" font-style="oblique" stroke="#b23cb8" stroke-width="0.75" stroke-linejoin="round">Circulation</text>
<text x="782.3" y="630.5" font-size="16.9" fill="#2c4cbe" text-anchor="start" font-weight="normal" font-style="oblique" stroke="#2c4cbe" stroke-width="0.8" stroke-linejoin="round">Stratospheric</text>
<text x="782.3" y="647.6" font-size="16.9" fill="#2c4cbe" text-anchor="start" font-weight="normal" font-style="oblique" stroke="#2c4cbe" stroke-width="0.8" stroke-linejoin="round">Brewer</text>
<text x="782.3" y="664.7" font-size="16.9" fill="#2c4cbe" text-anchor="start" font-weight="normal" font-style="oblique" stroke="#2c4cbe" stroke-width="0.8" stroke-linejoin="round">Dobson</text>
<text x="782.3" y="681.8" font-size="16.9" fill="#2c4cbe" text-anchor="start" font-weight="normal" font-style="oblique" stroke="#2c4cbe" stroke-width="0.8" stroke-linejoin="round">Circulation</text>
<text x="782.5" y="843.3" font-size="17.0" fill="#4b18be" text-anchor="start" font-weight="normal" font-style="oblique" stroke="#4b18be" stroke-width="1.0" stroke-linejoin="round">Tropopause</text>
<text x="782.5" y="930.5" font-size="16.95" fill="#5cb84a" text-anchor="start" font-weight="normal" font-style="oblique" stroke="#5cb84a" stroke-width="0.5" stroke-linejoin="round">Tropospheric</text>
<text x="782.5" y="947.4" font-size="16.95" fill="#5cb84a" text-anchor="start" font-weight="normal" font-style="oblique" stroke="#5cb84a" stroke-width="0.5" stroke-linejoin="round">Circulation</text>
<text x="782.5" y="964.3" font-size="16.95" fill="#5cb84a" text-anchor="start" font-weight="normal" font-style="oblique" stroke="#5cb84a" stroke-width="0.5" stroke-linejoin="round">Cells</text>
<text x="229.0" y="597.0" font-size="15.25" fill="#2a2a2a" text-anchor="start" font-weight="normal" font-style="normal" >planetary waves</text>
<text x="229.0" y="613.3" font-size="15.25" fill="#2a2a2a" text-anchor="start" font-weight="normal" font-style="normal" >gravity waves</text>
<text x="250.0" y="773.0" font-size="16.6" fill="#c0141c" text-anchor="start" font-weight="normal" font-style="normal" stroke="#c0141c" stroke-width="0.9" stroke-linejoin="round">sinks</text>
<text x="331.0" y="758.3" font-size="16.6" fill="#c0141c" text-anchor="start" font-weight="normal" font-style="normal" stroke="#c0141c" stroke-width="0.9" stroke-linejoin="round">expands</text>
<text x="127.3" y="946.0" font-size="16.7" fill="#68cc4e" text-anchor="start" font-weight="normal" font-style="normal" stroke="#68cc4e" stroke-width="0.55">Polar</text>
<text x="205.5" y="946.0" font-size="16.7" fill="#68cc4e" text-anchor="start" font-weight="normal" font-style="normal" stroke="#68cc4e" stroke-width="0.55">Ferrell</text>
<text x="347.3" y="944.0" font-size="16.7" fill="#68cc4e" text-anchor="start" font-weight="normal" font-style="normal" stroke="#68cc4e" stroke-width="0.55">Hadley</text>
<text x="470.3" y="944.0" font-size="16.7" fill="#68cc4e" text-anchor="start" font-weight="normal" font-style="normal" stroke="#68cc4e" stroke-width="0.55">Hadley</text>
<text x="587.5" y="944.0" font-size="16.7" fill="#68cc4e" text-anchor="start" font-weight="normal" font-style="normal" stroke="#68cc4e" stroke-width="0.55">Ferrell</text>
<text x="703.3" y="944.0" font-size="16.7" fill="#68cc4e" text-anchor="start" font-weight="normal" font-style="normal" stroke="#68cc4e" stroke-width="0.55">Polar</text>
</svg>
</body></html>
